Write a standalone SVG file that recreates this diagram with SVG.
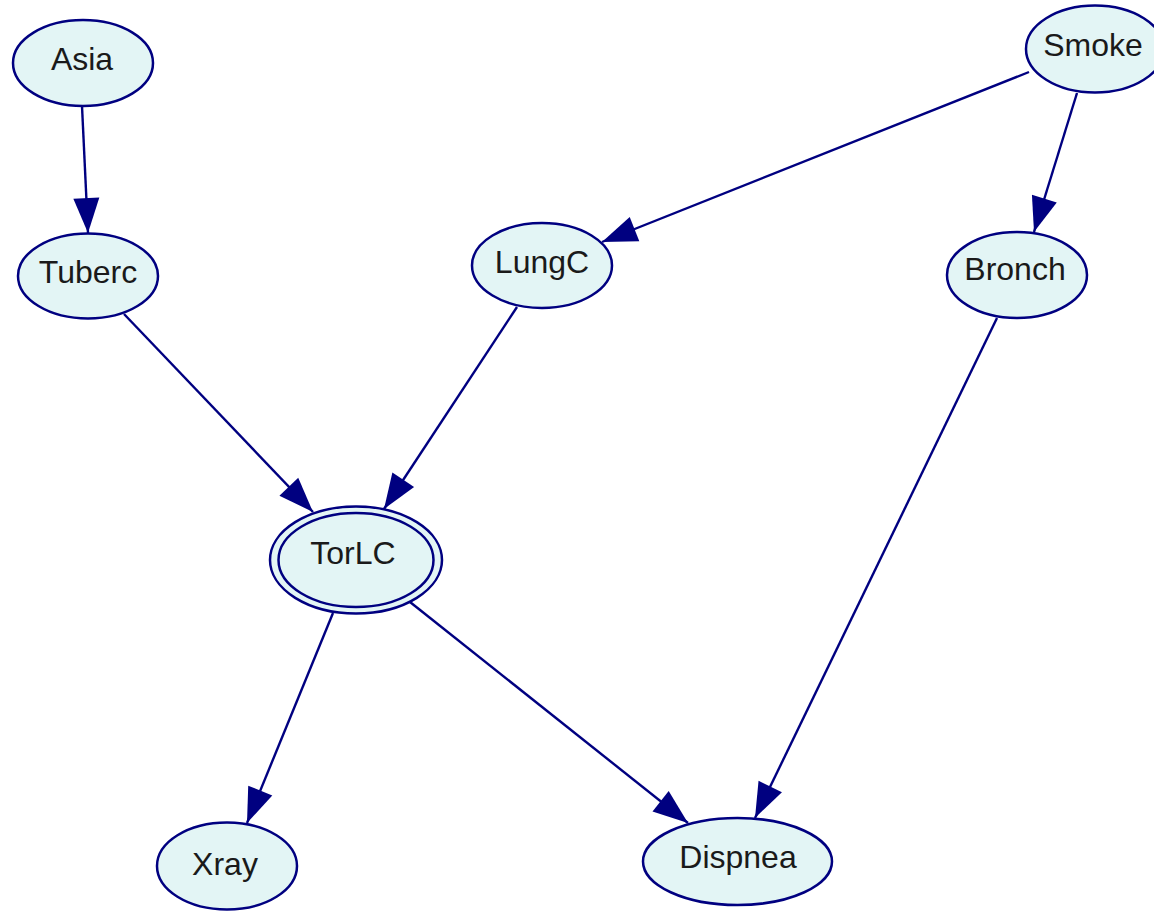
<svg xmlns="http://www.w3.org/2000/svg" width="1154" height="911" viewBox="0 0 1154 911">
<style>
.node ellipse{fill:#e3f5f5;stroke:#000080;stroke-width:2.5}
.node text{font-family:"Liberation Sans",Arial,sans-serif;font-size:32px;fill:#1a1a1a;text-anchor:middle}
#edges line{stroke:#000080;stroke-width:2.4;marker-end:url(#ah)}
</style>
<defs>
<marker id="ah" markerUnits="userSpaceOnUse" markerWidth="40" markerHeight="30" refX="35" refY="13" orient="auto" overflow="visible">
<path d="M0,0 L35,13 L0,26 Z" fill="#000080"/>
</marker>
</defs>
<rect width="1154" height="911" fill="#ffffff"/>
<g id="edges">
<line x1="82" y1="106" x2="88" y2="233"/>
<line x1="124" y1="314" x2="313" y2="512"/>
<line x1="517" y1="307" x2="384" y2="509"/>
<line x1="1029" y1="72" x2="602" y2="242"/>
<line x1="1077" y1="93" x2="1034" y2="232"/>
<line x1="997" y1="318" x2="755" y2="818"/>
<line x1="333" y1="613" x2="247" y2="823"/>
<line x1="410" y1="602" x2="688" y2="823"/>
</g>
<g id="node-asia" class="node"><ellipse cx="83" cy="63" rx="70" ry="43"/><text x="82" y="70">Asia</text></g>
<g id="node-smoke" class="node"><ellipse cx="1095" cy="49" rx="69" ry="43.5"/><text x="1093" y="56">Smoke</text></g>
<g id="node-tuberc" class="node"><ellipse cx="88" cy="276" rx="70" ry="42.5"/><text x="88" y="283">Tuberc</text></g>
<g id="node-lungc" class="node"><ellipse cx="542" cy="265.5" rx="70" ry="42.5"/><text x="542" y="273">LungC</text></g>
<g id="node-bronch" class="node"><ellipse cx="1017" cy="275" rx="70" ry="43"/><text x="1015" y="280">Bronch</text></g>
<g id="node-torlc" class="node"><ellipse cx="356" cy="560" rx="86" ry="53.5"/><ellipse cx="356" cy="560" rx="77.5" ry="47"/><text x="353" y="564">TorLC</text></g>
<g id="node-xray" class="node"><ellipse cx="227" cy="866" rx="70" ry="43.5"/><text x="225" y="875">Xray</text></g>
<g id="node-dispnea" class="node"><ellipse cx="737.5" cy="861.5" rx="94.5" ry="43.5"/><text x="738" y="868">Dispnea</text></g>
</svg>
